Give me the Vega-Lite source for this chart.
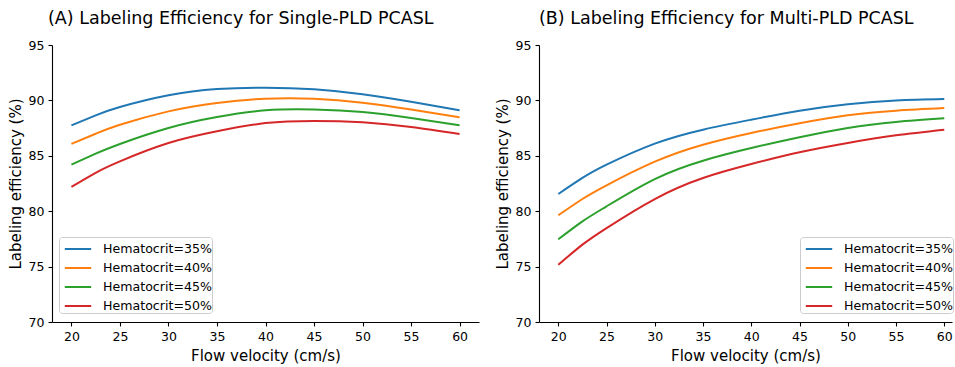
{
  "$schema": "https://vega.github.io/schema/vega-lite/v6.json",
  "background": "white",
  "padding": {"left": 8, "top": 9, "right": 0, "bottom": 0},
  "spacing": 16,
  "config": {
    "view": {"stroke": null},
    "font": "DejaVu Sans",
    "axis": {
      "domainColor": "#000", "tickColor": "#000", "labelColor": "#000", "titleColor": "#000",
      "labelFont": "DejaVu Sans", "titleFont": "DejaVu Sans",
      "labelFontSize": 12.5, "titleFontSize": 15, "titleFontWeight": "normal",
      "tickSize": 4, "grid": false, "labelPadding": 4, "domainWidth": 1.1, "tickWidth": 1.1
    },
    "axisX": {"titlePadding": 6},
    "title": {"font": "DejaVu Sans", "fontSize": 17.5, "fontWeight": "normal", "color": "#000", "anchor": "start", "frame": "group", "offset": 12},
    "legend": {
      "title": null, "orient": "none", "symbolType": "M-1.2,0H1.2", "symbolSize": 484, "symbolStrokeWidth": 2,
      "symbolOffset": 7,
      "labelFont": "DejaVu Sans", "labelFontSize": 12.6, "labelColor": "#000", "labelOffset": 13,
      "strokeColor": "#cccccc", "fillColor": "rgba(255,255,255,0.8)", "cornerRadius": 3, "padding": 0, "rowPadding": 0
    }
  },
  "data": {"values": [
    {"panel": "A", "v": 20, "h": "Hematocrit=35%", "e": 87.75},
    {"panel": "A", "v": 22.5, "h": "Hematocrit=35%", "e": 88.65},
    {"panel": "A", "v": 25, "h": "Hematocrit=35%", "e": 89.4},
    {"panel": "A", "v": 30, "h": "Hematocrit=35%", "e": 90.46},
    {"panel": "A", "v": 35, "h": "Hematocrit=35%", "e": 91.02},
    {"panel": "A", "v": 40, "h": "Hematocrit=35%", "e": 91.15},
    {"panel": "A", "v": 45, "h": "Hematocrit=35%", "e": 91.0},
    {"panel": "A", "v": 50, "h": "Hematocrit=35%", "e": 90.55},
    {"panel": "A", "v": 55, "h": "Hematocrit=35%", "e": 89.87},
    {"panel": "A", "v": 60, "h": "Hematocrit=35%", "e": 89.1},
    {"panel": "A", "v": 20, "h": "Hematocrit=40%", "e": 86.07},
    {"panel": "A", "v": 22.5, "h": "Hematocrit=40%", "e": 86.99},
    {"panel": "A", "v": 25, "h": "Hematocrit=40%", "e": 87.8},
    {"panel": "A", "v": 30, "h": "Hematocrit=40%", "e": 89.01},
    {"panel": "A", "v": 35, "h": "Hematocrit=40%", "e": 89.77},
    {"panel": "A", "v": 40, "h": "Hematocrit=40%", "e": 90.15},
    {"panel": "A", "v": 45, "h": "Hematocrit=40%", "e": 90.14},
    {"panel": "A", "v": 50, "h": "Hematocrit=40%", "e": 89.78},
    {"panel": "A", "v": 55, "h": "Hematocrit=40%", "e": 89.17},
    {"panel": "A", "v": 60, "h": "Hematocrit=40%", "e": 88.47},
    {"panel": "A", "v": 20, "h": "Hematocrit=45%", "e": 84.2},
    {"panel": "A", "v": 22.5, "h": "Hematocrit=45%", "e": 85.19},
    {"panel": "A", "v": 25, "h": "Hematocrit=45%", "e": 86.07},
    {"panel": "A", "v": 30, "h": "Hematocrit=45%", "e": 87.51},
    {"panel": "A", "v": 35, "h": "Hematocrit=45%", "e": 88.5},
    {"panel": "A", "v": 40, "h": "Hematocrit=45%", "e": 89.1},
    {"panel": "A", "v": 45, "h": "Hematocrit=45%", "e": 89.18},
    {"panel": "A", "v": 50, "h": "Hematocrit=45%", "e": 88.95},
    {"panel": "A", "v": 55, "h": "Hematocrit=45%", "e": 88.41},
    {"panel": "A", "v": 60, "h": "Hematocrit=45%", "e": 87.75},
    {"panel": "A", "v": 20, "h": "Hematocrit=50%", "e": 82.2},
    {"panel": "A", "v": 22.5, "h": "Hematocrit=50%", "e": 83.47},
    {"panel": "A", "v": 25, "h": "Hematocrit=50%", "e": 84.5},
    {"panel": "A", "v": 30, "h": "Hematocrit=50%", "e": 86.15},
    {"panel": "A", "v": 35, "h": "Hematocrit=50%", "e": 87.21},
    {"panel": "A", "v": 40, "h": "Hematocrit=50%", "e": 87.95},
    {"panel": "A", "v": 45, "h": "Hematocrit=50%", "e": 88.15},
    {"panel": "A", "v": 50, "h": "Hematocrit=50%", "e": 88.02},
    {"panel": "A", "v": 55, "h": "Hematocrit=50%", "e": 87.6},
    {"panel": "A", "v": 60, "h": "Hematocrit=50%", "e": 86.97},
    {"panel": "B", "v": 20, "h": "Hematocrit=35%", "e": 81.55},
    {"panel": "B", "v": 22.5, "h": "Hematocrit=35%", "e": 83.0},
    {"panel": "B", "v": 25, "h": "Hematocrit=35%", "e": 84.2},
    {"panel": "B", "v": 30, "h": "Hematocrit=35%", "e": 86.1},
    {"panel": "B", "v": 35, "h": "Hematocrit=35%", "e": 87.36},
    {"panel": "B", "v": 40, "h": "Hematocrit=35%", "e": 88.26},
    {"panel": "B", "v": 45, "h": "Hematocrit=35%", "e": 89.07},
    {"panel": "B", "v": 50, "h": "Hematocrit=35%", "e": 89.65},
    {"panel": "B", "v": 55, "h": "Hematocrit=35%", "e": 90.0},
    {"panel": "B", "v": 60, "h": "Hematocrit=35%", "e": 90.13},
    {"panel": "B", "v": 20, "h": "Hematocrit=40%", "e": 79.63},
    {"panel": "B", "v": 22.5, "h": "Hematocrit=40%", "e": 81.1},
    {"panel": "B", "v": 25, "h": "Hematocrit=40%", "e": 82.34},
    {"panel": "B", "v": 30, "h": "Hematocrit=40%", "e": 84.47},
    {"panel": "B", "v": 35, "h": "Hematocrit=40%", "e": 86.0},
    {"panel": "B", "v": 40, "h": "Hematocrit=40%", "e": 87.06},
    {"panel": "B", "v": 45, "h": "Hematocrit=40%", "e": 87.93},
    {"panel": "B", "v": 50, "h": "Hematocrit=40%", "e": 88.65},
    {"panel": "B", "v": 55, "h": "Hematocrit=40%", "e": 89.07},
    {"panel": "B", "v": 60, "h": "Hematocrit=40%", "e": 89.31},
    {"panel": "B", "v": 20, "h": "Hematocrit=45%", "e": 77.46},
    {"panel": "B", "v": 22.5, "h": "Hematocrit=45%", "e": 79.08},
    {"panel": "B", "v": 25, "h": "Hematocrit=45%", "e": 80.44},
    {"panel": "B", "v": 30, "h": "Hematocrit=45%", "e": 82.9},
    {"panel": "B", "v": 35, "h": "Hematocrit=45%", "e": 84.56},
    {"panel": "B", "v": 40, "h": "Hematocrit=45%", "e": 85.7},
    {"panel": "B", "v": 45, "h": "Hematocrit=45%", "e": 86.67},
    {"panel": "B", "v": 50, "h": "Hematocrit=45%", "e": 87.51},
    {"panel": "B", "v": 55, "h": "Hematocrit=45%", "e": 88.05},
    {"panel": "B", "v": 60, "h": "Hematocrit=45%", "e": 88.38},
    {"panel": "B", "v": 20, "h": "Hematocrit=50%", "e": 75.17},
    {"panel": "B", "v": 22.5, "h": "Hematocrit=50%", "e": 76.98},
    {"panel": "B", "v": 25, "h": "Hematocrit=50%", "e": 78.48},
    {"panel": "B", "v": 30, "h": "Hematocrit=50%", "e": 81.1},
    {"panel": "B", "v": 35, "h": "Hematocrit=50%", "e": 83.0},
    {"panel": "B", "v": 40, "h": "Hematocrit=50%", "e": 84.26},
    {"panel": "B", "v": 45, "h": "Hematocrit=50%", "e": 85.32},
    {"panel": "B", "v": 50, "h": "Hematocrit=50%", "e": 86.16},
    {"panel": "B", "v": 55, "h": "Hematocrit=50%", "e": 86.85},
    {"panel": "B", "v": 60, "h": "Hematocrit=50%", "e": 87.36}
  ]},
  "hconcat": [
    {
      "title": {"text": "(A) Labeling Efficiency for Single-PLD PCASL", "dx": -4},
      "width": 427, "height": 277,
      "transform": [{"filter": "datum.panel === 'A'"}],
      "mark": {"type": "line", "strokeWidth": 2, "interpolate": "natural"},
      "encoding": {
        "x": {"field": "v", "type": "quantitative", "title": "Flow velocity (cm/s)",
              "scale": {"domain": [18, 62], "nice": false, "zero": false},
              "axis": {"values": [20, 25, 30, 35, 40, 45, 50, 55, 60]}},
        "y": {"field": "e", "type": "quantitative", "title": "Labeling efficiency (%)",
              "scale": {"domain": [70, 95], "nice": false, "zero": false},
              "axis": {"values": [70, 75, 80, 85, 90, 95], "titlePadding": 5}},
        "color": {"field": "h", "type": "nominal",
                  "scale": {"domain": ["Hematocrit=35%", "Hematocrit=40%", "Hematocrit=45%", "Hematocrit=50%"], "range": ["#1f77b4", "#ff7f0e", "#2ca02c", "#d62728"]},
                  "legend": {"legendX": 7, "legendY": 192, "labelExpr": "datum.label + '\u00a0\u00a0'"}}
      }
    },
    {
      "title": {"text": "(B) Labeling Efficiency for Multi-PLD PCASL"},
      "width": 413, "height": 277,
      "transform": [{"filter": "datum.panel === 'B'"}],
      "mark": {"type": "line", "strokeWidth": 2, "interpolate": "natural"},
      "encoding": {
        "x": {"field": "v", "type": "quantitative", "title": "Flow velocity (cm/s)",
              "scale": {"domain": [18, 60.8], "nice": false, "zero": false},
              "axis": {"values": [20, 25, 30, 35, 40, 45, 50, 55, 60]}},
        "y": {"field": "e", "type": "quantitative", "title": "Labeling efficiency (%)",
              "scale": {"domain": [70, 95], "nice": false, "zero": false},
              "axis": {"values": [70, 75, 80, 85, 90, 95], "titlePadding": 5}},
        "color": {"field": "h", "type": "nominal",
                  "scale": {"domain": ["Hematocrit=35%", "Hematocrit=40%", "Hematocrit=45%", "Hematocrit=50%"], "range": ["#1f77b4", "#ff7f0e", "#2ca02c", "#d62728"]},
                  "legend": {"legendX": 261, "legendY": 192}}
      }
    }
  ],
  "resolve": {"scale": {"color": "independent"}, "legend": {"color": "independent"}}
}
